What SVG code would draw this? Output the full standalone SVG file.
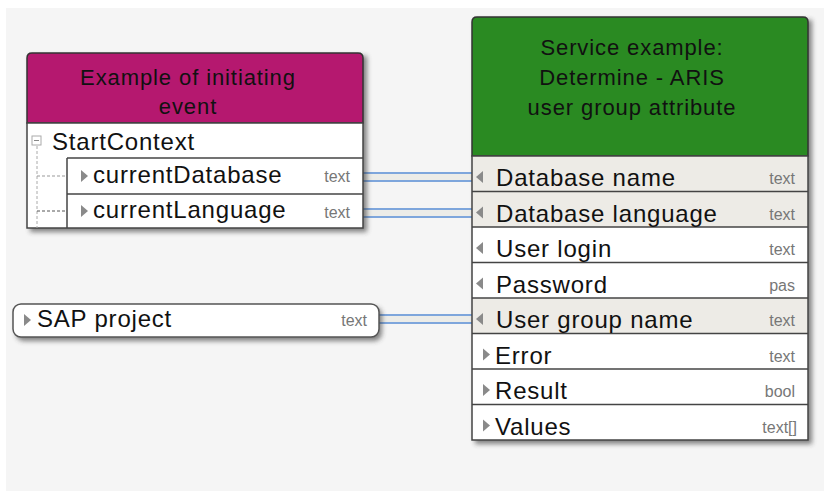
<svg xmlns="http://www.w3.org/2000/svg" width="824" height="491" viewBox="0 0 824 491">
<defs>
<filter id="sh" x="-10%" y="-10%" width="130%" height="130%">
<feGaussianBlur stdDeviation="2.5"/>
</filter>
</defs>
<style>
.lbl{font-family:"Liberation Sans",Arial,sans-serif;font-size:24px;fill:#111;letter-spacing:0.8px}
.hdr{font-family:"Liberation Sans",Arial,sans-serif;font-size:22px;fill:#111;letter-spacing:0.9px;text-anchor:middle}
.typ{font-family:"Liberation Sans",Arial,sans-serif;font-size:16px;fill:#777;text-anchor:end}
.row{stroke:#444;stroke-width:1.5}
.tri{fill:#8a8a8a}
.shadow{fill:#333;opacity:0.6;filter:url(#sh)}
.c-out{stroke:#7EA6DC;stroke-width:10;fill:none}
.c-in{stroke:#ECECE8;stroke-width:6;fill:none}
</style>
<rect x="0" y="0" width="824" height="491" fill="#ffffff"/>
<rect x="6" y="8" width="818" height="483" fill="#F5F5F5"/>

<g id="connectors">
<line class="c-out" x1="363" y1="177" x2="476" y2="177"/>
<line class="c-in" x1="363" y1="177" x2="476" y2="177"/>
<line class="c-out" x1="363" y1="213" x2="476" y2="213"/>
<line class="c-in" x1="363" y1="213" x2="476" y2="213"/>
<line class="c-out" x1="379" y1="319" x2="472" y2="319"/>
<line class="c-in" x1="379" y1="319" x2="472" y2="319"/>
</g>

<g id="node-event">
<rect class="shadow" x="30" y="56" width="337" height="176"/>
<path d="M27,123 V58 Q27,53 32,53 H358 Q363,53 363,58 V123 Z" fill="#B5186F" stroke="#333" stroke-width="1.5"/>
<rect x="27" y="123" width="336" height="105" fill="#ffffff" stroke="#444" stroke-width="1.5"/>
<text class="hdr" x="188" y="85">Example of initiating</text>
<text class="hdr" x="188" y="114">event</text>
<rect x="32" y="136" width="9" height="9" fill="#fff" stroke="#aaa" stroke-width="1"/>
<line x1="34" y1="140.5" x2="39" y2="140.5" stroke="#888" stroke-width="1"/>
<line x1="37" y1="146" x2="37" y2="228" stroke="#aaa" stroke-width="1" stroke-dasharray="3,2"/>
<line x1="37" y1="176" x2="67" y2="176" stroke="#999" stroke-width="1" stroke-dasharray="3,2"/>
<line x1="37" y1="211" x2="67" y2="211" stroke="#555" stroke-width="1" stroke-dasharray="3,2"/>
<text class="lbl" x="52" y="150">StartContext</text>
<line class="row" x1="67" y1="158" x2="363" y2="158"/>
<line class="row" x1="67" y1="194" x2="363" y2="194"/>
<line class="row" x1="67" y1="158" x2="67" y2="228"/>
<polygon class="tri" points="81,170 88,176 81,182"/>
<text class="lbl" x="93" y="183">currentDatabase</text>
<text class="typ" x="350" y="182">text</text>
<polygon class="tri" points="81,205 88,211 81,217"/>
<text class="lbl" x="93" y="218">currentLanguage</text>
<text class="typ" x="350" y="218">text</text>
</g>

<g id="node-service">
<rect class="shadow" x="475" y="20" width="337" height="424"/>
<path d="M472,156 V22 Q472,17 477,17 H803 Q808,17 808,22 V156 Z" fill="#2A8A22" stroke="#333" stroke-width="1.5"/>
<text class="hdr" x="632" y="55">Service example:</text>
<text class="hdr" x="632" y="85">Determine - ARIS</text>
<text class="hdr" x="632" y="115">user group attribute</text>
<rect x="472" y="156" width="336" height="71" fill="#EDEBE6"/>
<rect x="472" y="227" width="336" height="71" fill="#ffffff"/>
<rect x="472" y="298" width="336" height="35.5" fill="#EDEBE6"/>
<rect x="472" y="333.5" width="336" height="106.5" fill="#ffffff"/>
<rect x="472" y="156" width="336" height="284" fill="none" stroke="#444" stroke-width="1.5"/>
<line class="row" x1="472" y1="191.5" x2="808" y2="191.5"/>
<line class="row" x1="472" y1="227" x2="808" y2="227"/>
<line class="row" x1="472" y1="262.5" x2="808" y2="262.5"/>
<line class="row" x1="472" y1="298" x2="808" y2="298"/>
<line class="row" x1="472" y1="333.5" x2="808" y2="333.5"/>
<line class="row" x1="472" y1="369" x2="808" y2="369"/>
<line class="row" x1="472" y1="404.5" x2="808" y2="404.5"/>

<polygon class="tri" points="483,171 476,177 483,183"/>
<text class="lbl" x="496" y="186">Database name</text>
<text class="typ" x="795" y="184">text</text>

<polygon class="tri" points="483,206.5 476,212.5 483,218.5"/>
<text class="lbl" x="496" y="221.5">Database language</text>
<text class="typ" x="795" y="219.5">text</text>

<polygon class="tri" points="483,242 476,248 483,254"/>
<text class="lbl" x="496" y="257">User login</text>
<text class="typ" x="795" y="255">text</text>

<polygon class="tri" points="483,277.5 476,283.5 483,289.5"/>
<text class="lbl" x="496" y="292.5">Password</text>
<text class="typ" x="795" y="290.5">pas</text>

<polygon class="tri" points="483,313 476,319 483,325"/>
<text class="lbl" x="496" y="328">User group name</text>
<text class="typ" x="795" y="326">text</text>

<polygon class="tri" points="483,348.5 490,354.5 483,360.5"/>
<text class="lbl" x="495" y="363.5">Error</text>
<text class="typ" x="795" y="361.5">text</text>

<polygon class="tri" points="483,384 490,390 483,396"/>
<text class="lbl" x="495" y="399">Result</text>
<text class="typ" x="795" y="397">bool</text>

<polygon class="tri" points="483,419.5 490,425.5 483,431.5"/>
<text class="lbl" x="495" y="434.5">Values</text>
<text class="typ" x="797" y="432.5">text[]</text>
</g>

<g id="node-sap">
<rect class="shadow" x="16" y="307" width="366" height="34" rx="8"/>
<rect x="13" y="304" width="366" height="33" rx="8" fill="#ffffff" stroke="#555" stroke-width="1.5"/>
<polygon class="tri" points="24,314 31,320 24,326"/>
<text class="lbl" x="37" y="327">SAP project</text>
<text class="typ" x="367" y="326">text</text>
</g>
</svg>
